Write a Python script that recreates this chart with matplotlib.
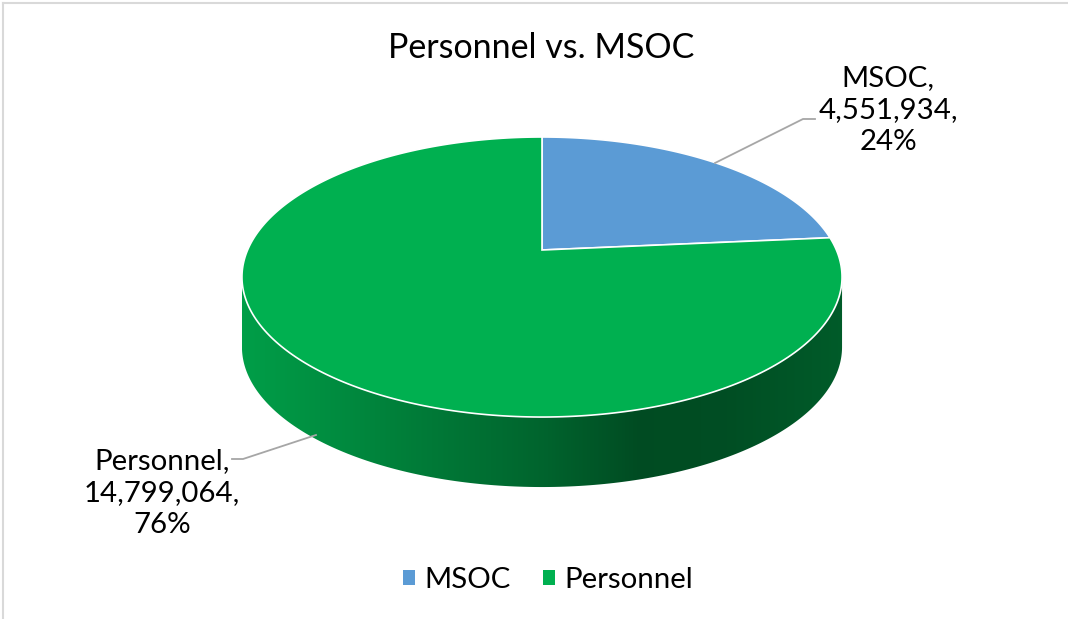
import numpy as np
import matplotlib
matplotlib.use('Agg')
import matplotlib.pyplot as plt
from matplotlib.patches import Polygon, Patch

plt.rcParams['font.family'] = ['Lato', 'DejaVu Sans']

# data
labels = ['MSOC', 'Personnel']
values = [4551934, 14799064]
colors = ['#5B9BD5', '#00B050']
title = 'Personnel vs. MSOC'

# pie geometry (pixels), simple perspective of a tilted disc
CX, CY = 542, 250
A, B, P = 294.4, 134.8, 0.193
DEPTH = 70


def proj(ang, dz=0.0):
    t = np.radians(ang)
    u, v = np.cos(t), np.sin(t)
    w = 1 + P * v
    return CX + A * u / w, CY - B * v / w + dz


fig = plt.figure(figsize=(10.68, 6.19), dpi=100)
ax = fig.add_axes([0, 0, 1, 1])
ax.set_xlim(0, 1068)
ax.set_ylim(619, 0)
ax.axis('off')

total = sum(values)
spans = [360 * v / total for v in values]
starts = 90 - np.concatenate([[0], np.cumsum(spans)[:-1]])

# side wall (front half only)
f0 = 180 + np.degrees(np.arcsin(P))
f1 = 360 - np.degrees(np.arcsin(P))
x_left = CX - A / np.sqrt(1 - P ** 2)
x_right = CX + A / np.sqrt(1 - P ** 2)
tp = [0, 0.03, 0.25, 0.5, 0.66, 0.8, 1]
fp = [0.9, 0.88, 0.73, 0.57, 0.43, 0.44, 0.52]
tt = np.linspace(0, 1, 400)
fac = np.interp(tt, tp, fp)

for s, sp, c in zip(starts, spans, colors):
    a, b = s - sp, s
    for k in (-360, 0, 360):
        lo, hi = max(a + k, f0), min(b + k, f1)
        if lo >= hi:
            continue
        ang = np.linspace(lo, hi, 200)
        xt, yt = proj(ang)
        xb, yb = proj(ang, DEPTH)
        pts = np.column_stack([np.r_[xt, xb[::-1]], np.r_[yt, yb[::-1]]])
        poly = Polygon(pts, closed=True, facecolor='none', edgecolor='none')
        ax.add_patch(poly)
        rgb = np.array(matplotlib.colors.to_rgb(c))
        img = (fac[:, None] * rgb[None, :])[None, :, :]
        im = ax.imshow(img, extent=(x_left, x_right, 619, 0), aspect='auto',
                       interpolation='bilinear', zorder=1)
        im.set_clip_path(poly)

# top face
for s, sp, c in zip(starts, spans, colors):
    ang = np.linspace(s, s - sp, 300)
    xs, ys = proj(ang)
    pts = np.column_stack([np.r_[CX, xs], np.r_[CY, ys]])
    ax.add_patch(Polygon(pts, closed=True, facecolor=c, edgecolor='white',
                         linewidth=1.2, zorder=2))

# data labels with leader lines
lab_pos = [(888, 110), (162, 493)]
leaders = [[(715, 163), (803, 119), (815, 119)],
           [(316, 435), (243, 459), (232, 459)]]
for lab, v, sp, (lx, ly), ld in zip(labels, values, spans, lab_pos, leaders):
    pct = round(sp / 360 * 100)
    ax.text(lx, ly, f'{lab},\n{v:,},\n{pct}%', ha='center', va='center',
            fontsize=21.2, linespacing=1.3, color='#000000', zorder=3)
    lx_, ly_ = zip(*ld)
    ax.plot(lx_, ly_, color='#A6A6A6', lw=1.3, zorder=3)

ax.text(541, 48, title, ha='center', va='center', fontsize=24.5, color='#000000')

# legend
handles = [Patch(facecolor=c, edgecolor='none') for c in colors]
fig.legend(handles, labels, loc='center', bbox_to_anchor=(0.513, 1 - 580 / 619),
           ncol=2, frameon=False, fontsize=21.2, handlelength=0.42,
           handleheight=0.42, handletextpad=0.3, columnspacing=1.1)

# chart frame
ax.plot([3, 1068], [3, 3], color='#D9D9D9', lw=1.5)
ax.plot([3, 3], [3, 619], color='#D9D9D9', lw=1.5)

fig.savefig('out.png', dpi=100)
